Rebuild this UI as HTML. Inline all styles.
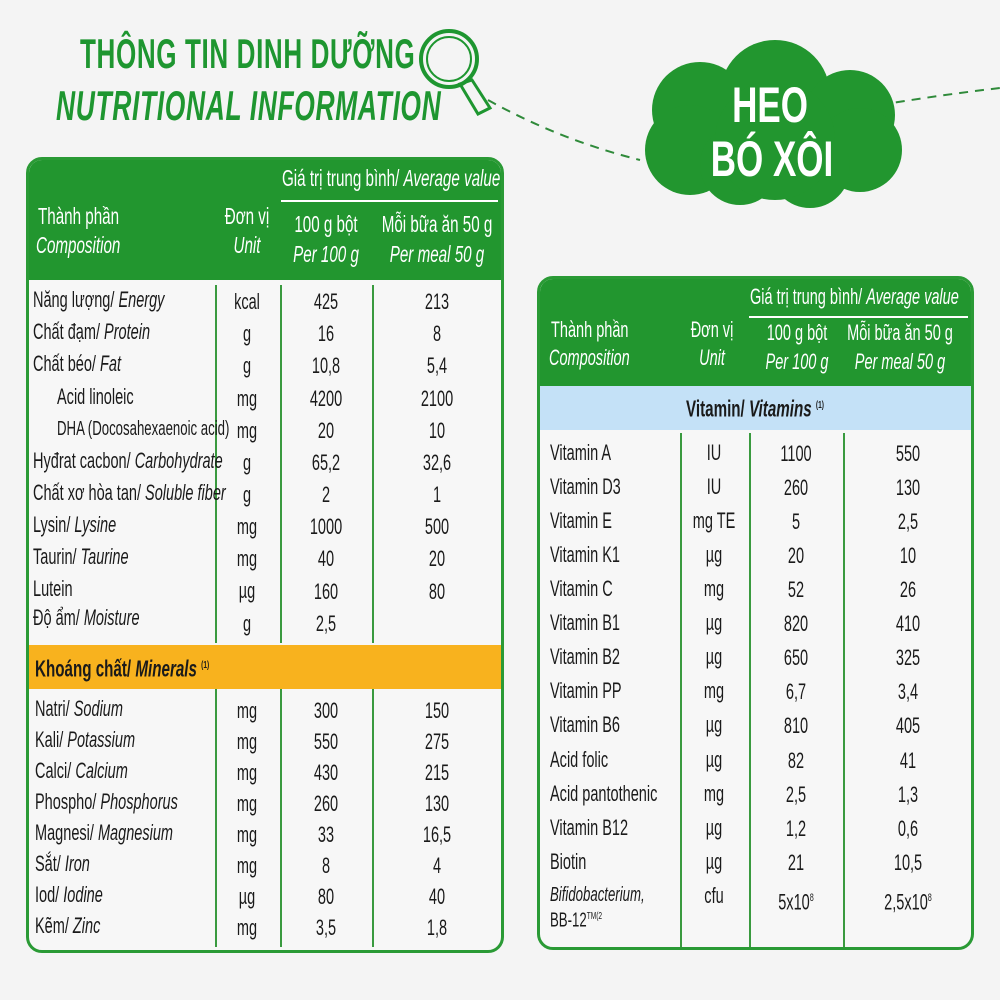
<!DOCTYPE html>
<html><head><meta charset="utf-8">
<style>
body{margin:0;width:1000px;height:1000px;background:#f4f4f4;position:relative;overflow:hidden;font-family:"Liberation Sans Narrow","Liberation Sans",sans-serif;color:#1a1a1a}
.a{position:absolute;white-space:nowrap}
.t{position:absolute;white-space:nowrap;font-size:22px;line-height:24px;transform:scaleX(.66);transform-origin:left center}
.c{position:absolute;white-space:nowrap;font-size:22px;line-height:24px;transform:translateX(-50%) scaleX(.66);transform-origin:center}
.h{font-size:23px}
.w{color:#fff}
i{font-style:italic}
.box{position:absolute;border:3px solid #2a9a35;border-radius:16px;background:#f7f7f7;overflow:hidden}
.hd{position:absolute;left:0;right:0;top:0;background:#22962f}
.vl{position:absolute;width:2px;background:#3a9a3f}
</style></head><body>

<div class="a" style="left:80px;top:30px;font-size:42px;font-weight:bold;color:#1e9630;transform:scaleX(.62);transform-origin:left;letter-spacing:1px">THÔNG TIN DINH DƯỠNG</div>
<div class="a" style="left:56px;top:82px;font-size:42px;font-weight:bold;font-style:italic;color:#1e9630;transform:scaleX(.63);transform-origin:left;letter-spacing:1px">NUTRITIONAL INFORMATION</div>

<svg class="a" style="left:0;top:0" width="1000" height="280">
 <circle cx="449" cy="59" r="28" fill="none" stroke="#1e9630" stroke-width="4"/>
 <circle cx="449" cy="59" r="22" fill="none" stroke="#1e9630" stroke-width="2"/>
 <path d="M460 84 L478 114 L490 108 L472 80Z" fill="none" stroke="#1e9630" stroke-width="3"/>
 <path d="M488 100 Q560 140 640 160" fill="none" stroke="#2f8a3a" stroke-width="2" stroke-dasharray="9 7"/>
 <path d="M880 105 Q940 95 1000 88" fill="none" stroke="#2f8a3a" stroke-width="2" stroke-dasharray="9 7"/>
 <g fill="#22962f">
  <circle cx="775" cy="95" r="55"/>
  <circle cx="700" cy="110" r="48"/>
  <circle cx="850" cy="115" r="45"/>
  <circle cx="690" cy="150" r="45"/>
  <circle cx="860" cy="150" r="42"/>
  <circle cx="740" cy="165" r="40"/>
  <circle cx="810" cy="168" r="40"/>
  <circle cx="775" cy="140" r="60"/>
 </g>
</svg>
<div class="a w" style="left:770px;top:76px;font-size:50px;font-weight:bold;transform:translateX(-50%) scaleX(.7)">HEO</div>
<div class="a w" style="left:772px;top:130px;font-size:50px;font-weight:bold;transform:translateX(-50%) scaleX(.7)">BÓ XÔI</div>

<!-- LEFT TABLE -->
<div class="box" style="left:26px;top:157px;width:472px;height:790px">
 <div class="hd" style="height:120px"></div>
 <div style="position:absolute;left:0;right:0;top:485px;height:44px;background:#f8b21e"></div>
 <div class="vl" style="left:186px;top:125px;height:358px"></div>
 <div class="vl" style="left:251px;top:125px;height:358px"></div>
 <div class="vl" style="left:343px;top:125px;height:358px"></div>
 <div class="vl" style="left:186px;top:529px;height:258px"></div>
 <div class="vl" style="left:251px;top:529px;height:258px"></div>
 <div class="vl" style="left:343px;top:529px;height:258px"></div>
 <div style="position:absolute;left:252px;right:3px;top:40px;height:2px;background:#fff"></div>
</div>
<div class="t w h" style="left:282px;top:166px">Giá trị trung bình/ <i>Average value</i></div>
<div class="t w h" style="left:38px;top:204px">Thành phần</div>
<div class="t w h" style="left:36px;top:233px"><i>Composition</i></div>
<div class="c w h" style="left:247px;top:204px">Đơn vị</div>
<div class="c w h" style="left:247px;top:233px"><i>Unit</i></div>
<div class="c w h" style="left:326px;top:212px">100 g bột</div>
<div class="c w h" style="left:326px;top:242px"><i>Per 100 g</i></div>
<div class="c w h" style="left:437px;top:212px">Mỗi bữa ăn 50 g</div>
<div class="c w h" style="left:437px;top:242px"><i>Per meal 50 g</i></div>

<div class="t" style="left:33px;top:288px">Năng lượng/ <i>Energy</i></div><div class="c" style="left:247px;top:290px">kcal</div><div class="c" style="left:326px;top:290px">425</div><div class="c" style="left:437px;top:290px">213</div>
<div class="t" style="left:33px;top:320px">Chất đạm/ <i>Protein</i></div><div class="c" style="left:247px;top:322px">g</div><div class="c" style="left:326px;top:322px">16</div><div class="c" style="left:437px;top:322px">8</div>
<div class="t" style="left:33px;top:352px">Chất béo/ <i>Fat</i></div><div class="c" style="left:247px;top:354px">g</div><div class="c" style="left:326px;top:354px">10,8</div><div class="c" style="left:437px;top:354px">5,4</div>
<div class="t" style="left:57px;top:385px">Acid linoleic</div><div class="c" style="left:247px;top:387px">mg</div><div class="c" style="left:326px;top:387px">4200</div><div class="c" style="left:437px;top:387px">2100</div>
<div class="t" style="left:57px;top:417px;font-size:20px">DHA (Docosahexaenoic acid)</div><div class="c" style="left:247px;top:419px">mg</div><div class="c" style="left:326px;top:419px">20</div><div class="c" style="left:437px;top:419px">10</div>
<div class="t" style="left:33px;top:449px">Hyđrat cacbon/ <i>Carbohydrate</i></div><div class="c" style="left:247px;top:451px">g</div><div class="c" style="left:326px;top:451px">65,2</div><div class="c" style="left:437px;top:451px">32,6</div>
<div class="t" style="left:33px;top:481px">Chất xơ hòa tan/ <i>Soluble fiber</i></div><div class="c" style="left:247px;top:483px">g</div><div class="c" style="left:326px;top:483px">2</div><div class="c" style="left:437px;top:483px">1</div>
<div class="t" style="left:33px;top:513px">Lysin/ <i>Lysine</i></div><div class="c" style="left:247px;top:515px">mg</div><div class="c" style="left:326px;top:515px">1000</div><div class="c" style="left:437px;top:515px">500</div>
<div class="t" style="left:33px;top:545px">Taurin/ <i>Taurine</i></div><div class="c" style="left:247px;top:547px">mg</div><div class="c" style="left:326px;top:547px">40</div><div class="c" style="left:437px;top:547px">20</div>
<div class="t" style="left:33px;top:577px">Lutein</div><div class="c" style="left:247px;top:579px">µg</div><div class="c" style="left:326px;top:580px">160</div><div class="c" style="left:437px;top:580px">80</div>
<div class="t" style="left:33px;top:606px">Độ ẩm/ <i>Moisture</i></div><div class="c" style="left:247px;top:612px">g</div><div class="c" style="left:326px;top:612px">2,5</div>

<div class="t" style="left:35px;top:654px;font-weight:bold;font-size:23px">Khoáng chất/ <i>Minerals</i> <sup style="font-size:10px">(1)</sup></div>

<div class="t" style="left:35px;top:697px">Natri/ <i>Sodium</i></div><div class="c" style="left:247px;top:699px">mg</div><div class="c" style="left:326px;top:699px">300</div><div class="c" style="left:437px;top:699px">150</div>
<div class="t" style="left:35px;top:728px">Kali/ <i>Potassium</i></div><div class="c" style="left:247px;top:730px">mg</div><div class="c" style="left:326px;top:730px">550</div><div class="c" style="left:437px;top:730px">275</div>
<div class="t" style="left:35px;top:759px">Calci/ <i>Calcium</i></div><div class="c" style="left:247px;top:761px">mg</div><div class="c" style="left:326px;top:761px">430</div><div class="c" style="left:437px;top:761px">215</div>
<div class="t" style="left:35px;top:790px">Phospho/ <i>Phosphorus</i></div><div class="c" style="left:247px;top:792px">mg</div><div class="c" style="left:326px;top:792px">260</div><div class="c" style="left:437px;top:792px">130</div>
<div class="t" style="left:35px;top:821px">Magnesi/ <i>Magnesium</i></div><div class="c" style="left:247px;top:823px">mg</div><div class="c" style="left:326px;top:823px">33</div><div class="c" style="left:437px;top:823px">16,5</div>
<div class="t" style="left:35px;top:852px">Sắt/ <i>Iron</i></div><div class="c" style="left:247px;top:854px">mg</div><div class="c" style="left:326px;top:854px">8</div><div class="c" style="left:437px;top:854px">4</div>
<div class="t" style="left:35px;top:883px">Iod/ <i>Iodine</i></div><div class="c" style="left:247px;top:885px">µg</div><div class="c" style="left:326px;top:885px">80</div><div class="c" style="left:437px;top:885px">40</div>
<div class="t" style="left:35px;top:914px">Kẽm/ <i>Zinc</i></div><div class="c" style="left:247px;top:916px">mg</div><div class="c" style="left:326px;top:916px">3,5</div><div class="c" style="left:437px;top:916px">1,8</div>

<!-- RIGHT TABLE -->
<div class="box" style="left:537px;top:276px;width:431px;height:668px">
 <div class="hd" style="height:107px"></div>
 <div style="position:absolute;left:0;right:0;top:107px;height:44px;background:#c4e1f7"></div>
 <div class="vl" style="left:140px;top:154px;height:514px"></div>
 <div class="vl" style="left:209px;top:154px;height:514px"></div>
 <div class="vl" style="left:303px;top:154px;height:514px"></div>
 <div style="position:absolute;left:209px;right:3px;top:37px;height:2px;background:#fff"></div>
</div>
<div class="t w" style="left:750px;top:285px">Giá trị trung bình/ <i>Average value</i></div>
<div class="t w" style="left:551px;top:318px">Thành phần</div>
<div class="t w" style="left:549px;top:346px"><i>Composition</i></div>
<div class="c w" style="left:712px;top:318px">Đơn vị</div>
<div class="c w" style="left:712px;top:346px"><i>Unit</i></div>
<div class="c w" style="left:797px;top:321px">100 g bột</div>
<div class="c w" style="left:797px;top:350px"><i>Per 100 g</i></div>
<div class="c w" style="left:900px;top:321px">Mỗi bữa ăn 50 g</div>
<div class="c w" style="left:900px;top:350px"><i>Per meal 50 g</i></div>
<div class="c" style="left:755px;top:394px;font-weight:bold;font-size:23px">Vitamin/ <i>Vitamins</i> <sup style="font-size:10px">(1)</sup></div>

<div class="t" style="left:550px;top:441px">Vitamin A</div><div class="c" style="left:714px;top:441px">IU</div><div class="c" style="left:796px;top:442px">1100</div><div class="c" style="left:908px;top:442px">550</div>
<div class="t" style="left:550px;top:475px">Vitamin D3</div><div class="c" style="left:714px;top:475px">IU</div><div class="c" style="left:796px;top:476px">260</div><div class="c" style="left:908px;top:476px">130</div>
<div class="t" style="left:550px;top:509px">Vitamin E</div><div class="c" style="left:714px;top:509px">mg TE</div><div class="c" style="left:796px;top:510px">5</div><div class="c" style="left:908px;top:510px">2,5</div>
<div class="t" style="left:550px;top:543px">Vitamin K1</div><div class="c" style="left:714px;top:543px">µg</div><div class="c" style="left:796px;top:544px">20</div><div class="c" style="left:908px;top:544px">10</div>
<div class="t" style="left:550px;top:577px">Vitamin C</div><div class="c" style="left:714px;top:577px">mg</div><div class="c" style="left:796px;top:578px">52</div><div class="c" style="left:908px;top:578px">26</div>
<div class="t" style="left:550px;top:611px">Vitamin B1</div><div class="c" style="left:714px;top:611px">µg</div><div class="c" style="left:796px;top:612px">820</div><div class="c" style="left:908px;top:612px">410</div>
<div class="t" style="left:550px;top:645px">Vitamin B2</div><div class="c" style="left:714px;top:645px">µg</div><div class="c" style="left:796px;top:646px">650</div><div class="c" style="left:908px;top:646px">325</div>
<div class="t" style="left:550px;top:679px">Vitamin PP</div><div class="c" style="left:714px;top:679px">mg</div><div class="c" style="left:796px;top:680px">6,7</div><div class="c" style="left:908px;top:680px">3,4</div>
<div class="t" style="left:550px;top:713px">Vitamin B6</div><div class="c" style="left:714px;top:713px">µg</div><div class="c" style="left:796px;top:714px">810</div><div class="c" style="left:908px;top:714px">405</div>
<div class="t" style="left:550px;top:748px">Acid folic</div><div class="c" style="left:714px;top:748px">µg</div><div class="c" style="left:796px;top:749px">82</div><div class="c" style="left:908px;top:749px">41</div>
<div class="t" style="left:550px;top:782px">Acid pantothenic</div><div class="c" style="left:714px;top:782px">mg</div><div class="c" style="left:796px;top:783px">2,5</div><div class="c" style="left:908px;top:783px">1,3</div>
<div class="t" style="left:550px;top:816px">Vitamin B12</div><div class="c" style="left:714px;top:816px">µg</div><div class="c" style="left:796px;top:817px">1,2</div><div class="c" style="left:908px;top:817px">0,6</div>
<div class="t" style="left:550px;top:850px">Biotin</div><div class="c" style="left:714px;top:850px">µg</div><div class="c" style="left:796px;top:851px">21</div><div class="c" style="left:908px;top:851px">10,5</div>
<div class="t" style="left:550px;top:884px;font-size:20px;line-height:22px"><i>Bifidobacterium,</i><br>BB-12<sup style="font-size:10px">TM(2</sup></div><div class="c" style="left:714px;top:884px">cfu</div><div class="c" style="left:796px;top:886px">5x10<sup style="font-size:11px">8</sup></div><div class="c" style="left:908px;top:886px">2,5x10<sup style="font-size:11px">8</sup></div>

</body></html>
